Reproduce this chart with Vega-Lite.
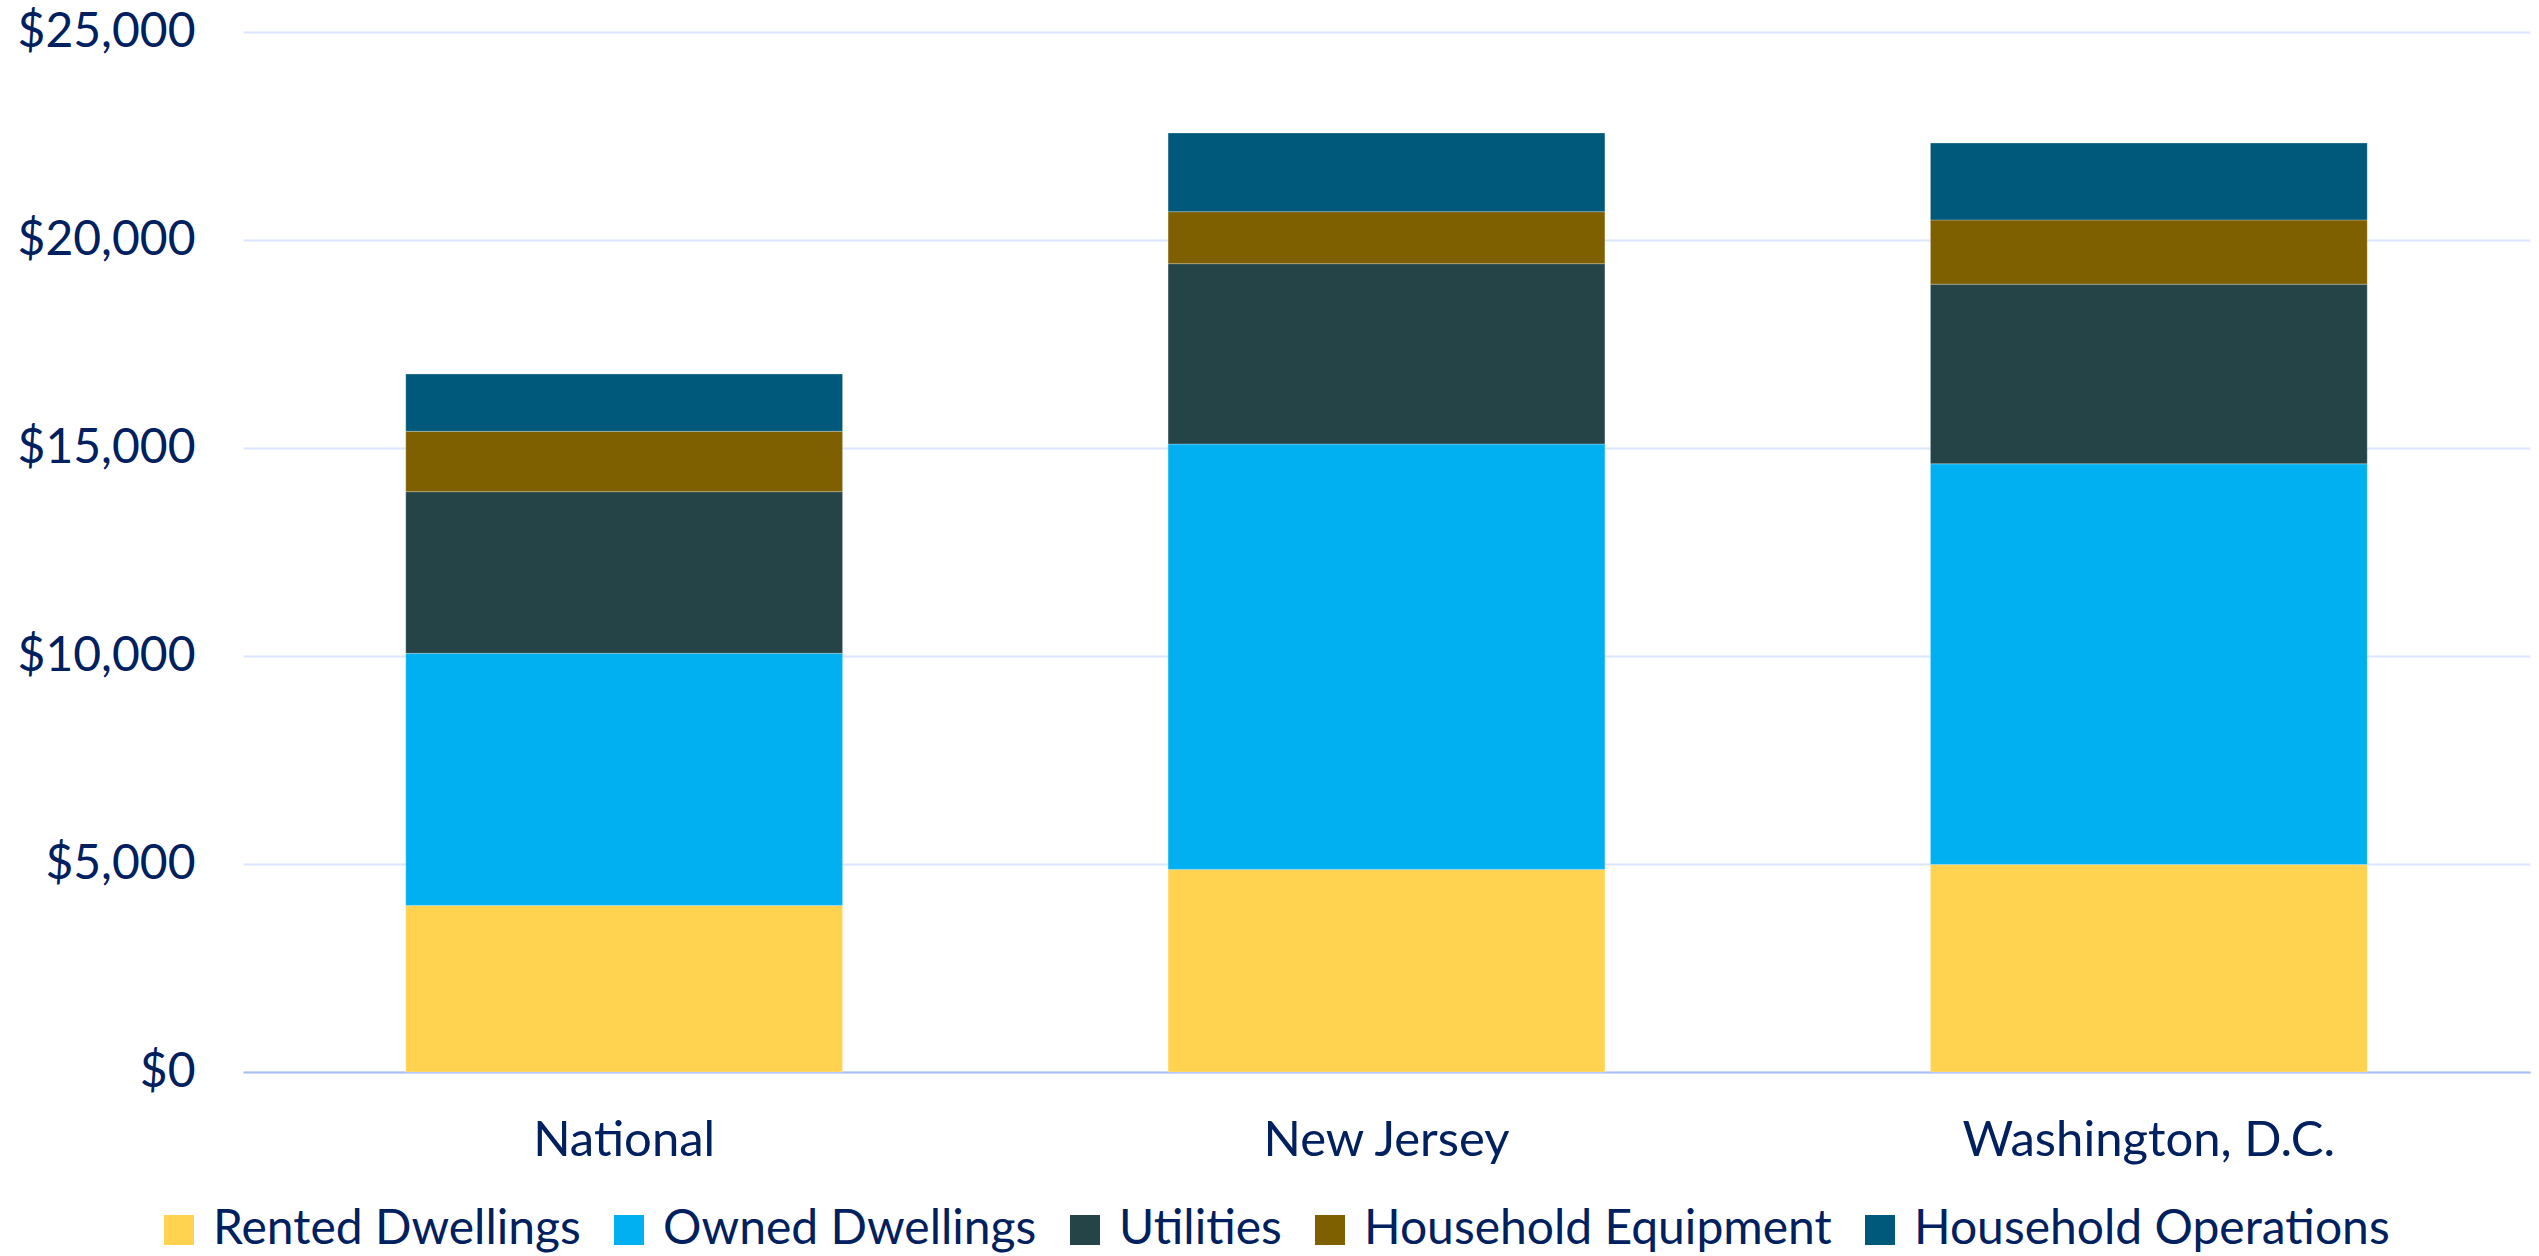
{
  "$schema": "https://vega.github.io/schema/vega-lite/v6.json",
  "width": 2287,
  "height": 1040,
  "autosize": {"type": "none"},
  "padding": {"left": 243, "top": 32, "right": 9, "bottom": 184},
  "background": "white",
  "data": {
    "values": [
      {"region": "National", "category": "Rented Dwellings", "layer": 1, "amount": 4005},
      {"region": "National", "category": "Owned Dwellings", "layer": 2, "amount": 6059},
      {"region": "National", "category": "Utilities", "layer": 3, "amount": 3886},
      {"region": "National", "category": "Household Equipment", "layer": 4, "amount": 1451},
      {"region": "National", "category": "Household Operations", "layer": 5, "amount": 1378},
      {"region": "New Jersey", "category": "Rented Dwellings", "layer": 1, "amount": 4870},
      {"region": "New Jersey", "category": "Owned Dwellings", "layer": 2, "amount": 10226},
      {"region": "New Jersey", "category": "Utilities", "layer": 3, "amount": 4335},
      {"region": "New Jersey", "category": "Household Equipment", "layer": 4, "amount": 1250},
      {"region": "New Jersey", "category": "Household Operations", "layer": 5, "amount": 1891},
      {"region": "Washington, D.C.", "category": "Rented Dwellings", "layer": 1, "amount": 4990},
      {"region": "Washington, D.C.", "category": "Owned Dwellings", "layer": 2, "amount": 9630},
      {"region": "Washington, D.C.", "category": "Utilities", "layer": 3, "amount": 4318},
      {"region": "Washington, D.C.", "category": "Household Equipment", "layer": 4, "amount": 1545},
      {"region": "Washington, D.C.", "category": "Household Operations", "layer": 5, "amount": 1847}
    ]
  },
  "mark": {"type": "bar", "stroke": "#ffffff", "strokeOpacity": 0.25, "strokeWidth": 1},
  "encoding": {
    "x": {
      "field": "region",
      "type": "nominal",
      "sort": ["National", "New Jersey", "Washington, D.C."],
      "scale": {"paddingInner": 0.427, "paddingOuter": 0.2135},
      "axis": {
        "title": null,
        "labelAngle": 0,
        "ticks": false,
        "domainColor": "#A9C0F7",
        "domainWidth": 2,
        "grid": false,
        "labelFont": "Lato",
        "labelFontSize": 49,
        "labelColor": "#002060",
        "labelPadding": 44,
        "labelLimit": 1000
      }
    },
    "y": {
      "field": "amount",
      "type": "quantitative",
      "stack": "zero",
      "scale": {"domain": [0, 25000], "nice": false},
      "axis": {
        "title": null,
        "values": [0, 5000, 10000, 15000, 20000, 25000],
        "format": "$,.0f",
        "domain": false,
        "ticks": false,
        "gridColor": "#DCE6FF",
        "gridWidth": 2,
        "labelFont": "Lato",
        "labelFontSize": 48,
        "labelColor": "#002060",
        "labelPadding": 48
      }
    },
    "order": {"field": "layer", "type": "quantitative", "sort": "ascending"},
    "color": {
      "field": "category",
      "type": "nominal",
      "sort": ["Rented Dwellings", "Owned Dwellings", "Utilities", "Household Equipment", "Household Operations"],
      "scale": {
        "domain": ["Rented Dwellings", "Owned Dwellings", "Utilities", "Household Equipment", "Household Operations"],
        "range": ["#FFD24F", "#00B0F0", "#254447", "#7F6000", "#00597A"]
      },
      "legend": {
        "title": null,
        "orient": "none",
        "legendX": -88,
        "legendY": 1174,
        "direction": "horizontal",
        "columns": 5,
        "symbolType": "square",
        "symbolSize": 900,
        "symbolStrokeWidth": 0,
        "labelFont": "Lato",
        "labelFontSize": 48,
        "labelColor": "#002060",
        "labelOffset": 10,
        "columnPadding": 24,
        "labelLimit": 1000
      }
    }
  },
  "config": {"view": {"stroke": null}}
}
